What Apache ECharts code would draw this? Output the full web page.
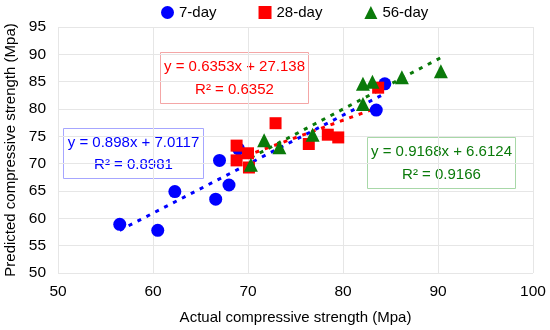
<!DOCTYPE html>
<html><head><meta charset="utf-8">
<script src="https://cdn.jsdelivr.net/npm/echarts@6/dist/echarts.min.js"></script>
<style>html,body{margin:0;padding:0;background:#fff}#c{width:550px;height:330px}</style>
</head><body><div id="c"></div>
<script>
// Data
const day7 = [[56.5,58.9],[60.5,57.8],[62.3,64.9],[66.6,63.5],[67.0,70.6],[68.0,66.1],[69.0,72.7],[83.5,79.8],[84.4,84.6]];
const day28 = [[68.8,73.3],[68.8,70.6],[70.0,71.9],[70.1,69.3],[72.9,77.4],[76.4,73.6],[78.4,75.3],[79.5,74.8],[83.7,83.9]];
const day56 = [[70.3,69.8],[71.7,74.3],[73.3,73.0],[76.8,75.3],[82.1,80.9],[82.1,84.6],[83.1,85.0],[86.2,85.8],[90.3,86.9]];
const trend7 = [[56.5,57.8],[84.4,82.8]];
const trend28 = [[68.8,70.8],[83.7,80.3]];
const trend56 = [[70.3,71.1],[90.3,89.4]];
const xTicks = [50,60,70,80,90,100];
const yTicks = [50,55,60,65,70,75,80,85,90,95];
const eq7 = ['y = 0.898x + 7.0117','R² = 0.8981'];
const eq28 = ['y = 0.6353x + 27.138','R² = 0.6352'];
const eq56 = ['y = 0.9168x + 6.6124','R² = 0.9166'];

const FONT = 'Liberation Sans, Arial, sans-serif';
const BLUE = '#0000ff', RED = '#ff0000', GREEN = '#0a7a0a';
const chart = echarts.init(document.getElementById('c'), null, {renderer:'canvas'});

function box(left, top, w, h, lines, color, border){
  return {
    type:'group', left:left, top:top,
    children:[
      {type:'rect', shape:{x:0,y:0,width:w,height:h}, style:{fill:'#fff', stroke:border, lineWidth:1}},
      {type:'text', x:w/2, y:h*0.29, style:{text:lines[0], fill:color, font:'15px '+FONT, align:'center', verticalAlign:'middle'}},
      {type:'text', x:w/2, y:h*0.73, style:{text:lines[1], fill:color, font:'15px '+FONT, align:'center', verticalAlign:'middle'}}
    ]
  };
}

const trendStyle = c => ({color:c, width:3, type:[4,6]});

chart.setOption({
  animation:false,
  textStyle:{fontFamily:FONT},
  grid:{left:58, right:17, top:27, bottom:57, containLabel:false, outerBoundsMode:'none'},
  legend:{
    left:156, top:0, itemGap:42, itemWidth:13, itemHeight:13,
    textStyle:{fontSize:15, color:'#000', fontFamily:FONT},
    data:[{name:'7-day', icon:'circle'},{name:'28-day', icon:'rect'},{name:'56-day', icon:'triangle'}]
  },
  xAxis:{
    type:'value', min:xTicks[0], max:xTicks[xTicks.length-1], interval:10,
    name:'Actual compressive strength (Mpa)', nameLocation:'middle', nameGap:37, nameMoveOverlap:false,
    nameTextStyle:{fontSize:15, color:'#000', fontFamily:FONT},
    axisLine:{show:false}, axisTick:{show:false},
    axisLabel:{fontSize:15.5, color:'#000', margin:11, fontFamily:FONT},
    splitLine:{show:true, lineStyle:{color:'#e6e6e6', width:1}}
  },
  yAxis:{
    type:'value', min:yTicks[0], max:yTicks[yTicks.length-1], interval:5,
    name:'Predicted compressive strength (Mpa)', nameLocation:'middle', nameGap:40, nameMoveOverlap:false,
    nameTextStyle:{fontSize:15, color:'#000', fontFamily:FONT},
    axisLine:{show:false}, axisTick:{show:false},
    axisLabel:{fontSize:15.5, color:'#000', margin:12, fontFamily:FONT},
    splitLine:{show:true, lineStyle:{color:'#e6e6e6', width:1}}
  },
  series:[
    {name:'t7', type:'line', data:trend7, symbol:'none', lineStyle:trendStyle(BLUE), z:1, silent:true},
    {name:'t28', type:'line', data:trend28, symbol:'none', lineStyle:trendStyle(RED), z:1, silent:true},
    {name:'t56', type:'line', data:trend56, symbol:'none', lineStyle:trendStyle(GREEN), z:1, silent:true},
    {name:'7-day', type:'scatter', data:day7, symbol:'circle', symbolSize:13, itemStyle:{color:BLUE, opacity:1}, z:3},
    {name:'28-day', type:'scatter', data:day28, symbol:'rect', symbolSize:12, itemStyle:{color:RED, opacity:1}, z:4},
    {name:'56-day', type:'scatter', data:day56, symbol:'triangle', symbolSize:14, itemStyle:{color:GREEN, opacity:1}, z:5}
  ],
  graphic:[
    box(160, 52, 148, 51, eq28, RED, '#f4a6a6'),
    box(63, 128, 140, 50, eq7, BLUE, '#a6a6ff'),
    box(367, 137, 148, 51, eq56, GREEN, '#a8d8a8')
  ]
});
</script></body></html>
